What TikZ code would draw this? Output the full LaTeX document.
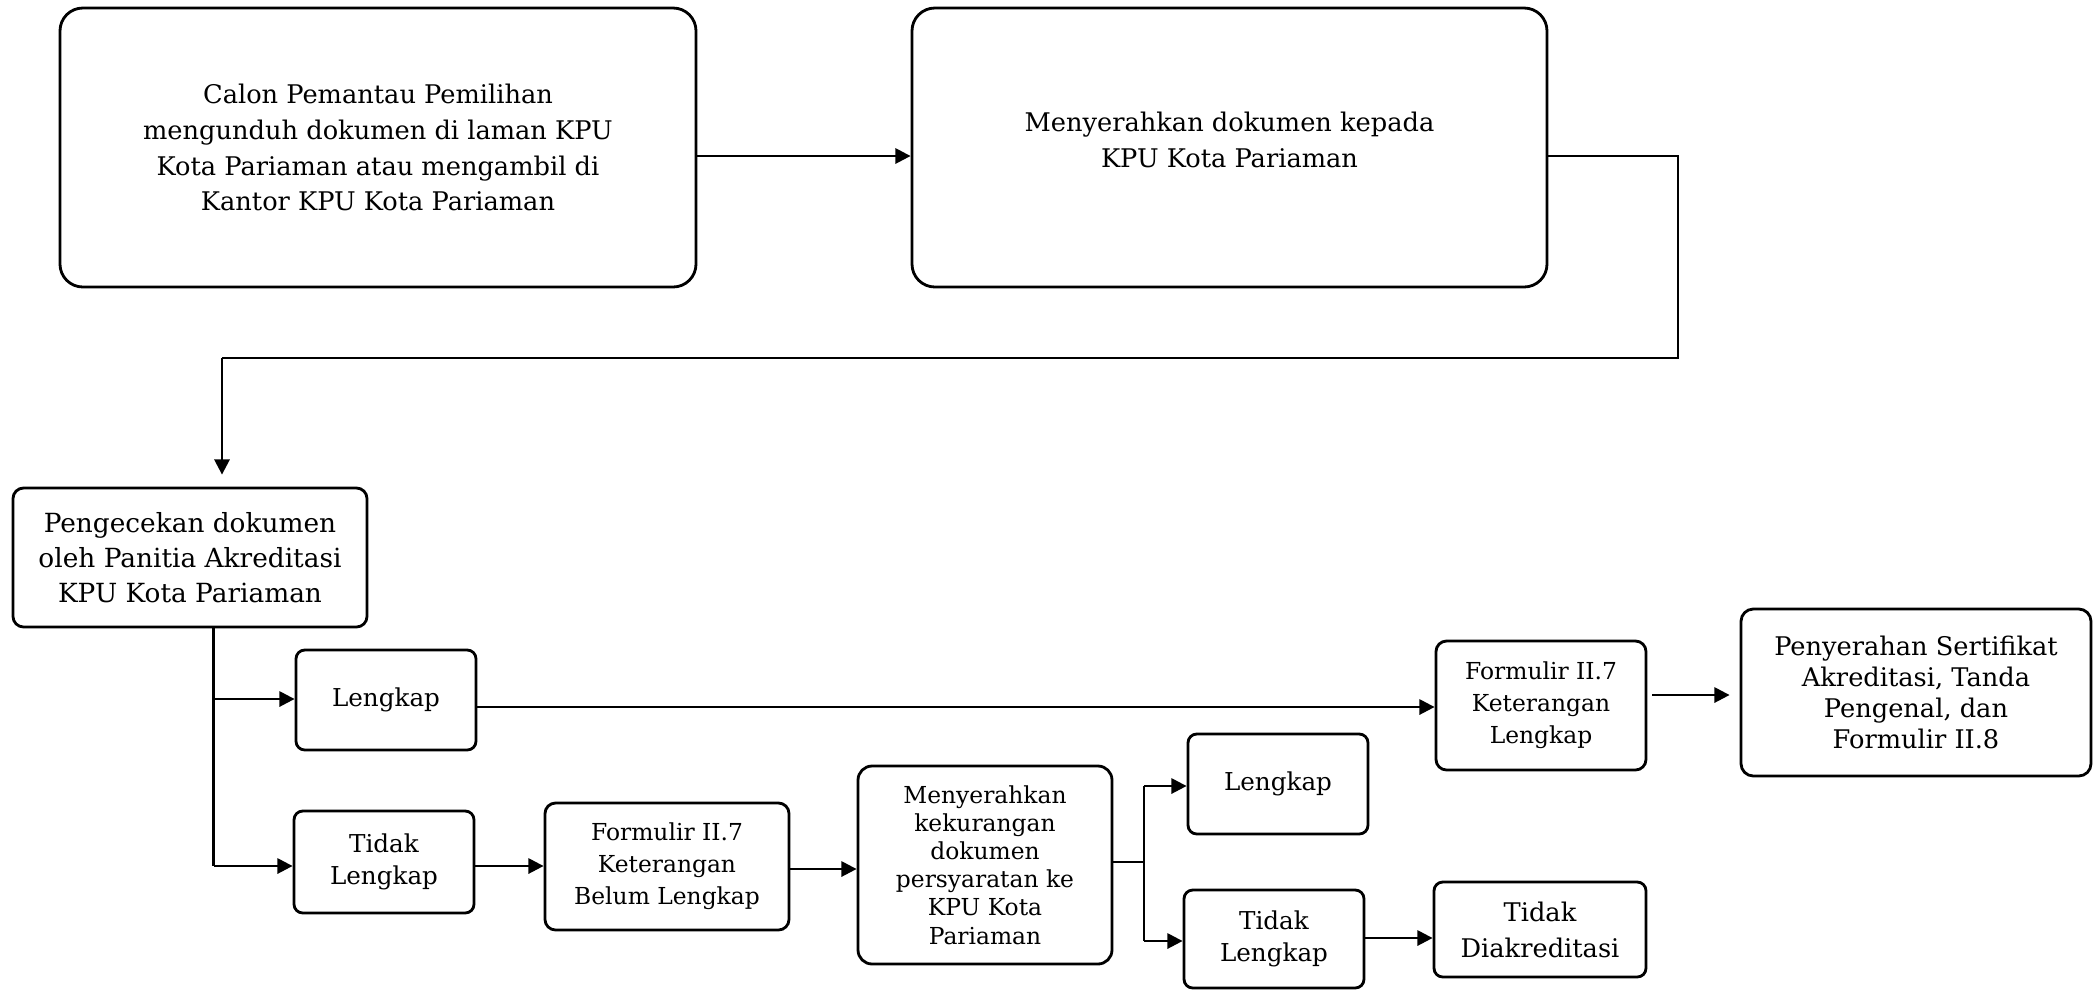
\documentclass[tikz,border=0pt]{standalone}
\usepackage{fontspec}
\setmainfont{DejaVu Serif}
\usetikzlibrary{arrows.meta}
\begin{document}
\begin{tikzpicture}[x=0.01cm,y=-0.01cm,
  box/.style={draw,line width=0.8pt,align=center,inner sep=0pt},
  sz/.style 2 args={minimum width=#1*0.01cm,minimum height=#2*0.01cm},
  fbig/.style={font=\fontsize{7.3}{10.2}\selectfont},
  fchk/.style={font=\fontsize{7.5}{10}\selectfont},
  fsm/.style={font=\fontsize{7}{9.1}\selectfont},
  fmid/.style={font=\fontsize{6.65}{9.1}\selectfont},
  fsml/.style={font=\fontsize{6.65}{8}\selectfont},
  fp/.style={font=\fontsize{7.3}{8.8}\selectfont},
  ftd/.style={font=\fontsize{7.3}{10.2}\selectfont},
  ln/.style={line width=0.7pt},
  arr/.style={line width=0.7pt,-{Triangle[length=4.3pt,width=4.3pt]}}]
\useasboundingbox (0,0) rectangle (2093,990);
% nodes
\node[box,fbig,sz={636}{279},rounded corners=6.5pt] (B1) at (378,147.5)
  {Calon Pemantau Pemilihan\\mengunduh dokumen di laman KPU\\Kota Pariaman atau mengambil di\\Kantor KPU Kota Pariaman};
\node[box,fbig,sz={635}{279},rounded corners=6.5pt,text depth=4.6pt] (B2) at (1229.5,147.5)
  {Menyerahkan dokumen kepada\\KPU Kota Pariaman};
\node[box,fchk,sz={354}{139},rounded corners=3pt] (B3) at (190,557.5)
  {Pengecekan dokumen\\oleh Panitia Akreditasi\\KPU Kota Pariaman};
\node[box,fsm,sz={180}{100},rounded corners=2.5pt] (L1) at (386,700) {Lengkap};
\node[box,fsm,sz={180}{102},rounded corners=2.5pt] (TL1) at (384,862) {Tidak\\Lengkap};
\node[box,fmid,sz={244}{127},rounded corners=3pt] (F1) at (667,866.5)
  {Formulir II.7\\Keterangan\\Belum Lengkap};
\node[box,fsml,sz={254}{198},rounded corners=4pt] (M) at (985,865)
  {Menyerahkan\\kekurangan\\dokumen\\persyaratan ke\\KPU Kota\\Pariaman};
\node[box,fsm,sz={180}{100},rounded corners=2.5pt] (L2) at (1278,784) {Lengkap};
\node[box,fsm,sz={180}{98},rounded corners=2.5pt] (TL2) at (1274,939) {Tidak\\Lengkap};
\node[box,ftd,sz={212}{95},rounded corners=2.5pt] (TD) at (1540,929.5) {Tidak\\Diakreditasi};
\node[box,fmid,sz={210}{129},rounded corners=3pt] (F2) at (1541,705.5)
  {Formulir II.7\\Keterangan\\Lengkap};
\node[box,fp,sz={350}{167},rounded corners=3.5pt] (P) at (1916,692.5)
  {Penyerahan Sertifikat\\Akreditasi, Tanda\\Pengenal, dan\\Formulir II.8};
% coordinates
\coordinate (r1) at (1678,156);
\coordinate (r2) at (1678,358);
\coordinate (r3) at (222,358);
\coordinate (t1) at (213.6,699);
\coordinate (t2) at (213.6,866);
\coordinate (m0) at (1144,862);
\coordinate (m1) at (1144,786);
\coordinate (m2) at (1144,941);
% connectors
\draw[arr] (B1.east |- r1) -- (B2.west |- r1);
\draw[ln] (B2.east |- r1) -- (r1) -- (r2) -- (r3);
\draw[arr,shorten >=0.12cm] (r3) -- (B3.north -| r3);
\draw[ln] (B3.south -| t1) -- (t2);
\draw[arr] (t1) -- (L1.west |- t1);
\draw[arr] (t2) -- (TL1.west |- t2);
\draw[arr] (L1.east |- 0,707) -- (F2.west |- 0,707);
\draw[arr] (TL1.east |- t2) -- (F1.west |- t2);
\draw[arr] (F1.east |- 0,869) -- (M.west |- 0,869);
\draw[ln] (M.east |- m0) -- (m0);
\draw[ln] (m1) -- (m2);
\draw[arr] (m1) -- (L2.west |- m1);
\draw[arr] (m2) -- (TL2.west |- m2);
\draw[arr] (TL2.east |- 0,938) -- (TD.west |- 0,938);
\draw[arr,shorten <=0.05cm,shorten >=0.1cm] (F2.east |- 0,695) -- (P.west |- 0,695);
\end{tikzpicture}
\end{document}
